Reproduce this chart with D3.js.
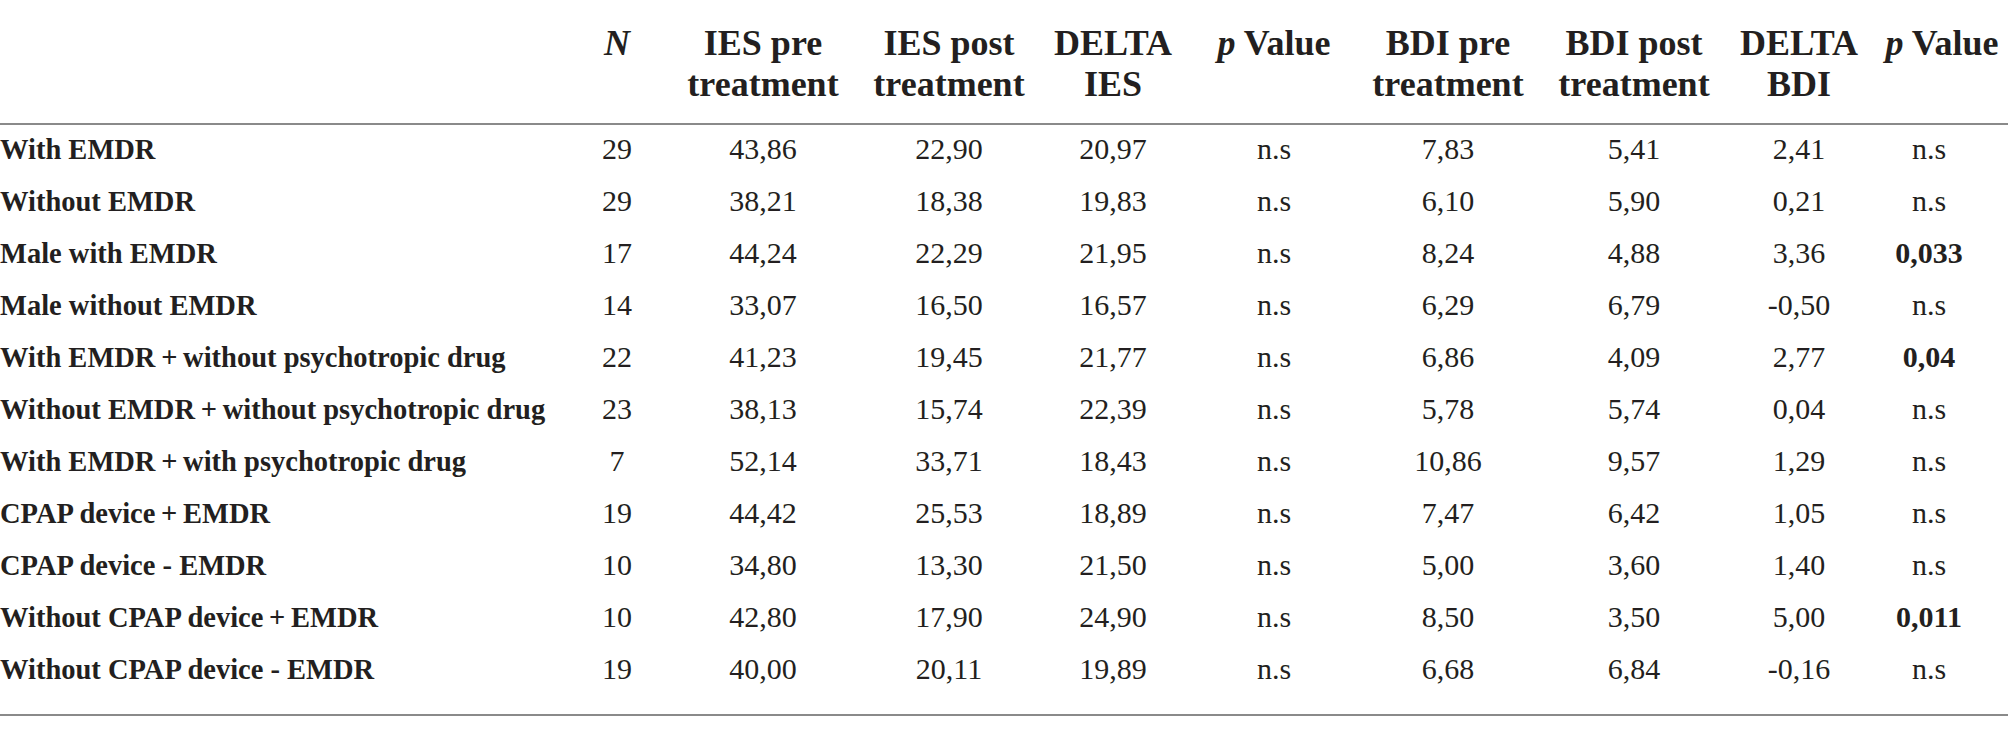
<!DOCTYPE html>
<html>
<head>
<meta charset="utf-8">
<script src="https://cdn.jsdelivr.net/npm/d3@7"></script>
<style>
  body { margin: 0; background: #fff; }
  svg { display: block; }
</style>
</head>
<body>
<script>
// table data
var rowLabels = [
  "With EMDR",
  "Without EMDR",
  "Male with EMDR",
  "Male without EMDR",
  "With EMDR\u2009+\u2009without psychotropic drug",
  "Without EMDR\u2009+\u2009without psychotropic drug",
  "With EMDR\u2009+\u2009with psychotropic drug",
  "CPAP device\u2009+\u2009EMDR",
  "CPAP device - EMDR",
  "Without CPAP device\u2009+\u2009EMDR",
  "Without CPAP device - EMDR"
];
var nValues   = ["29", "29", "17", "14", "22", "23", "7", "19", "10", "10", "19"];
var iesPre    = ["43,86", "38,21", "44,24", "33,07", "41,23", "38,13", "52,14", "44,42", "34,80", "42,80", "40,00"];
var iesPost   = ["22,90", "18,38", "22,29", "16,50", "19,45", "15,74", "33,71", "25,53", "13,30", "17,90", "20,11"];
var deltaIes  = ["20,97", "19,83", "21,95", "16,57", "21,77", "22,39", "18,43", "18,89", "21,50", "24,90", "19,89"];
var pIes      = ["n.s", "n.s", "n.s", "n.s", "n.s", "n.s", "n.s", "n.s", "n.s", "n.s", "n.s"];
var bdiPre    = ["7,83", "6,10", "8,24", "6,29", "6,86", "5,78", "10,86", "7,47", "5,00", "8,50", "6,68"];
var bdiPost   = ["5,41", "5,90", "4,88", "6,79", "4,09", "5,74", "9,57", "6,42", "3,60", "3,50", "6,84"];
var deltaBdi  = ["2,41", "0,21", "3,36", "-0,50", "2,77", "0,04", "1,29", "1,05", "1,40", "5,00", "-0,16"];
var pBdi      = ["n.s", "n.s", "0,033", "n.s", "0,04", "n.s", "n.s", "n.s", "n.s", "0,011", "n.s"];

var colKeys = ["n", "iesPre", "iesPost", "deltaIes", "pIes", "bdiPre", "bdiPost", "deltaBdi", "pBdi"];
var headers = [
  [{t: "N", it: true}],
  [{t: "IES pre"}, {t: "treatment"}],
  [{t: "IES post"}, {t: "treatment"}],
  [{t: "DELTA"}, {t: "IES"}],
  [{t: "p", it: true, rest: " Value"}],
  [{t: "BDI pre"}, {t: "treatment"}],
  [{t: "BDI post"}, {t: "treatment"}],
  [{t: "DELTA"}, {t: "BDI"}],
  [{t: "p", it: true, rest: " Value"}]
];
var columns = [nValues, iesPre, iesPost, deltaIes, pIes, bdiPre, bdiPost, deltaBdi, pBdi];

function drawTable(){

  var w = 2008;
  var h = 734;
  var textColor = "#231f20";
  var font = "'Liberation Serif', 'Times New Roman', serif";

  var svg = d3.select("body")
    .append("svg")
    .attr("width", w)
    .attr("height", h);

  // column centres
  var x = d3.scaleOrdinal()
    .domain(colKeys)
    .range([617, 763, 949, 1113, 1274, 1448, 1634, 1799, 1929]);

  // header centres (last one sits a little to the right)
  var xHead = d3.scaleOrdinal()
    .domain(colKeys)
    .range([617, 763, 949, 1113, 1274, 1448, 1634, 1799, 1942]);

  // row centres
  var y = d3.scalePoint()
    .domain(d3.range(rowLabels.length))
    .range([148.6, 668.6]);

  // rules
  svg.append("line")
    .attr("x1", 0).attr("x2", w)
    .attr("y1", 124).attr("y2", 124)
    .attr("stroke", "#8a8a8a").attr("stroke-width", 2);

  svg.append("line")
    .attr("x1", 0).attr("x2", w)
    .attr("y1", 715).attr("y2", 715)
    .attr("stroke", "#8a8a8a").attr("stroke-width", 2);

  // HEADER
  var head = svg.selectAll(".head")
    .data(headers)
    .enter()
    .append("text")
    .attr("class", "head")
    .attr("text-anchor", "middle")
    .attr("font-family", font)
    .attr("font-weight", "bold")
    .attr("font-size", "36px")
    .attr("fill", textColor)
    .attr("x", function(d, i){ return xHead(colKeys[i]); });

  head.each(function(d){
    var t = d3.select(this);
    d.forEach(function(line, j){
      var ts = t.append("tspan")
        .attr("x", t.attr("x"))
        .attr("y", 55 + j * 41)
        .text(line.t);
      if (line.it) ts.attr("font-style", "italic");
      if (line.rest) t.append("tspan").text(line.rest);
    });
  });

  // ROW LABELS
  svg.selectAll(".rowlab")
    .data(rowLabels)
    .enter()
    .append("text")
    .attr("class", "rowlab")
    .attr("x", 0)
    .attr("y", function(d, i){ return y(i); })
    .attr("dy", "0.35em")
    .attr("font-family", font)
    .attr("font-weight", "bold")
    .attr("font-size", "28.5px")
    .attr("fill", textColor)
    .text(function(d){ return d; });

  // CELLS
  columns.forEach(function(col, c){
    svg.selectAll(".cell" + c)
      .data(col)
      .enter()
      .append("text")
      .attr("class", "cell" + c)
      .attr("x", x(colKeys[c]))
      .attr("y", function(d, i){ return y(i); })
      .attr("dy", "0.35em")
      .attr("text-anchor", "middle")
      .attr("font-family", font)
      .attr("font-size", "30px")
      .attr("font-weight", function(d){ return (colKeys[c] == "pBdi" && d != "n.s") ? "bold" : "normal"; })
      .attr("fill", textColor)
      .text(function(d){ return d; });
  });
}

drawTable();
</script>
</body>
</html>
